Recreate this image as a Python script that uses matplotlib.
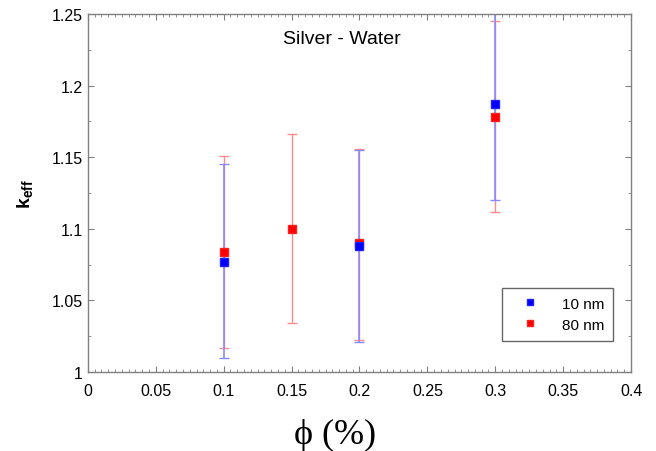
import numpy as np
import matplotlib.pyplot as plt
from matplotlib.ticker import MultipleLocator

# volume fraction (%) and effective conductivity ratio
phi_10 = [0.1, 0.2, 0.3]
k_10 = [1.077, 1.088, 1.187]
k_10_lo = [1.010, 1.021, 1.120]
k_10_hi = [1.145, 1.155, 1.256]

phi_80 = [0.1, 0.15, 0.2, 0.3]
k_80 = [1.084, 1.100, 1.090, 1.178]
k_80_lo = [1.017, 1.034, 1.022, 1.112]
k_80_hi = [1.151, 1.166, 1.156, 1.245]

xticks = [0, 0.05, 0.1, 0.15, 0.2, 0.25, 0.3, 0.35, 0.4]
xticklabels = ['0', '0.05', '0.1', '0.15', '0.2', '0.25', '0.3', '0.35', '0.4']
yticks = [1, 1.05, 1.1, 1.15, 1.2, 1.25]
yticklabels = ['1', '1.05', '1.1', '1.15', '1.2', '1.25']

plt.rcParams['font.family'] = ['Liberation Sans', 'DejaVu Sans']
plt.rcParams['mathtext.fontset'] = 'custom'
plt.rcParams['mathtext.rm'] = 'Liberation Sans'
plt.rcParams['mathtext.bf'] = 'Liberation Sans:bold'

fig = plt.figure(figsize=(6.56, 4.52), dpi=100)
ax = fig.add_axes([0.134, 0.175, 0.828, 0.792])


def errs(k, lo, hi):
    k = np.array(k)
    return [k - np.array(lo), np.array(hi) - k]


ax.errorbar(phi_80, k_80, yerr=errs(k_80, k_80_lo, k_80_hi), fmt='none',
            ecolor='#ff8a8a', elinewidth=1.0, capsize=3.5, capthick=1.0)
ax.errorbar(phi_10, k_10, yerr=errs(k_10, k_10_lo, k_10_hi), fmt='none',
            ecolor='#8a8aff', elinewidth=1.2, capsize=3.5, capthick=1.0)
ax.plot(phi_80, k_80, 's', color='red', ms=5.5, mec='#ff2020', label='80 nm', zorder=3)
ax.plot(phi_10, k_10, 's', color='blue', ms=5.5, mec='#2020ff', label='10 nm', zorder=3)

ax.set_xlim(0, 0.4)
ax.set_ylim(1, 1.25)
ax.set_xticks(xticks)
ax.set_xticklabels(xticklabels)
ax.set_yticks(yticks)
ax.set_yticklabels(yticklabels)
ax.xaxis.set_minor_locator(MultipleLocator(0.005))
ax.yaxis.set_minor_locator(MultipleLocator(0.025))
ax.tick_params(which='both', direction='in', top=True, right=True,
               color='#808080', labelsize=11.5)
ax.tick_params(axis='x', pad=8)
ax.tick_params(axis='y', pad=3.5)
ax.tick_params(which='major', length=4)
ax.tick_params(which='minor', length=2)
for s in ax.spines.values():
    s.set_color('#808080')
    s.set_linewidth(1.0)

ax.text(0.468, 0.93, 'Silver - Water', transform=ax.transAxes,
        ha='center', va='center', fontsize=14)

# x label sits a bit left of the axes centre
fig.text(0.511, 0.036, '\u03d5 (%)', family=['Liberation Serif', 'DejaVu Serif'],
         fontsize=26, ha='center', va='center')
ax.set_ylabel(r'$\mathbf{k_{eff}}$', fontsize=14, labelpad=12)

h, l = ax.get_legend_handles_labels()
leg = ax.legend(h[::-1], l[::-1], loc='lower right', bbox_to_anchor=(0.967, 0.087),
                borderaxespad=0, frameon=True, fancybox=False, edgecolor='#404040',
                fontsize=11, handletextpad=0.9, borderpad=0.6, handlelength=2.4,
                markerscale=0.8, labelspacing=0.45)
leg.get_frame().set_linewidth(1.0)

fig.savefig('out.png', dpi=100)
